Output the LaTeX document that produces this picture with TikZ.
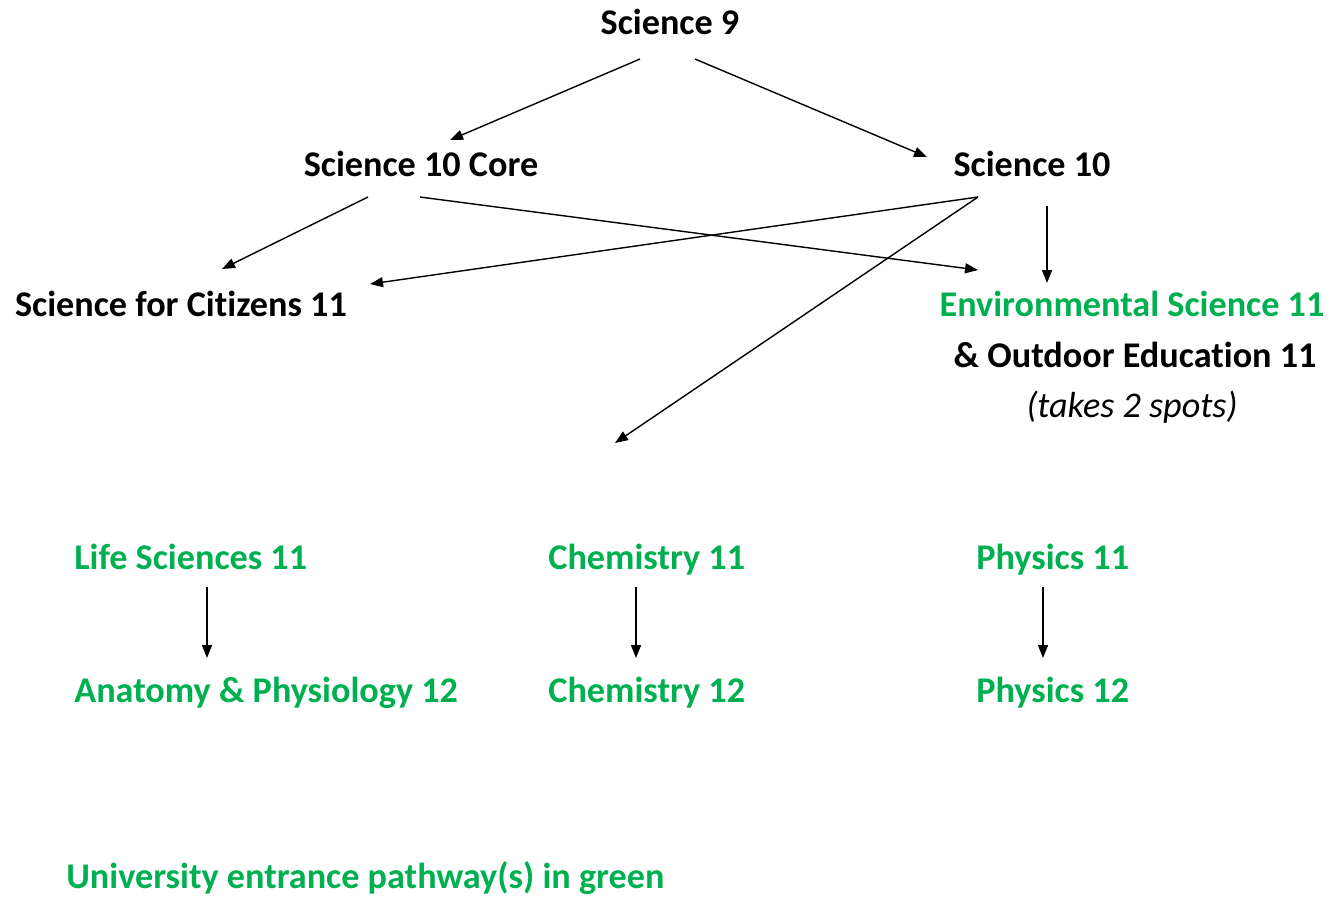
\documentclass[tikz,border=0pt]{standalone}
\usepackage{fontspec}
\setmainfont[Ligatures=NoCommon]{Carlito}
\usetikzlibrary{arrows.meta}
\definecolor{pathgreen}{HTML}{00B050}
\begin{document}
\begin{tikzpicture}[x=0.02cm,y=-0.02cm,
  lbl/.style={font=\fontsize{20.6}{24}\selectfont\bfseries, inner sep=0pt, text=black, text height=0.72em, text depth=0.22em, yshift=-0.14cm},
  glbl/.style={lbl, text=pathgreen},
  conn/.style={-{Triangle[length=2.6mm,width=2mm]}, line width=0.8pt, black}]
\useasboundingbox (0,0) rectangle (1344,897);
% nodes
\node[lbl] (s9) at (670,23) {Science 9};
\node[lbl] (s10c) at (421,165) {Science 10 Core};
\node[lbl] (s10) at (1032,165) {Science 10};
\node[lbl] (sfc) at (181,305) {Science for Cit\kern0pt izens 11};
\node[glbl] (env) at (1132,305) {Environmental Science 11};
\node[lbl] (out) at (1135,356) {\& Outdoor Educat\kern0pt ion 11};
\node[lbl, font=\fontsize{20.6}{24}\selectfont\itshape] (spots) at (1132,406) {(takes 2 spots)};
\node[glbl, anchor=west] (life) at (74,558) {Life Sciences 11};
\node[glbl, anchor=west] (chem) at (548,558) {Chemistry 11};
\node[glbl, anchor=west] (phys) at (976,558) {Physics 11};
\node[glbl, anchor=west] (anat) at (74,691) {Anatomy \& Physiology 12};
\node[glbl, anchor=west] (chemb) at (548,691) {Chemistry 12};
\node[glbl, anchor=west] (physb) at (976,691) {Physics 12};
\node[glbl, anchor=west] (legend) at (66,877) {University entrance pathway(s) in green};
% connector ends
\coordinate (s9l) at (640,59);
\coordinate (s9r) at (695,59);
\coordinate (s10cin) at (450,140);
\coordinate (s10in) at (927,157);
\coordinate (s10cl) at (368,197);
\coordinate (s10cr) at (420,197);
\coordinate (sfcin) at (222,269);
\coordinate (envin) at (978,270);
\coordinate (s10l) at (978,197);
\coordinate (sfcin2) at (370,284);
\coordinate (chemin) at (615,443);
\coordinate (s10d) at (1047,206);
\coordinate (envin2) at (1047,283);
\coordinate (lifed) at (207,587);
\coordinate (anatin) at (207,658);
\coordinate (chemd) at (636,587);
\coordinate (chembin) at (636,658);
\coordinate (physd) at (1043,587);
\coordinate (physbin) at (1043,658);
% connectors
\draw[conn] (s9l) -- (s10cin);
\draw[conn] (s9r) -- (s10in);
\draw[conn] (s10cl) -- (sfcin);
\draw[conn] (s10cr) -- (envin);
\draw[conn] (s10l) -- (sfcin2);
\draw[conn] (s10l) -- (chemin);
\draw[conn] (s10d) -- (envin2);
\draw[conn] (lifed) -- (anatin);
\draw[conn] (chemd) -- (chembin);
\draw[conn] (physd) -- (physbin);
\end{tikzpicture}
\end{document}
